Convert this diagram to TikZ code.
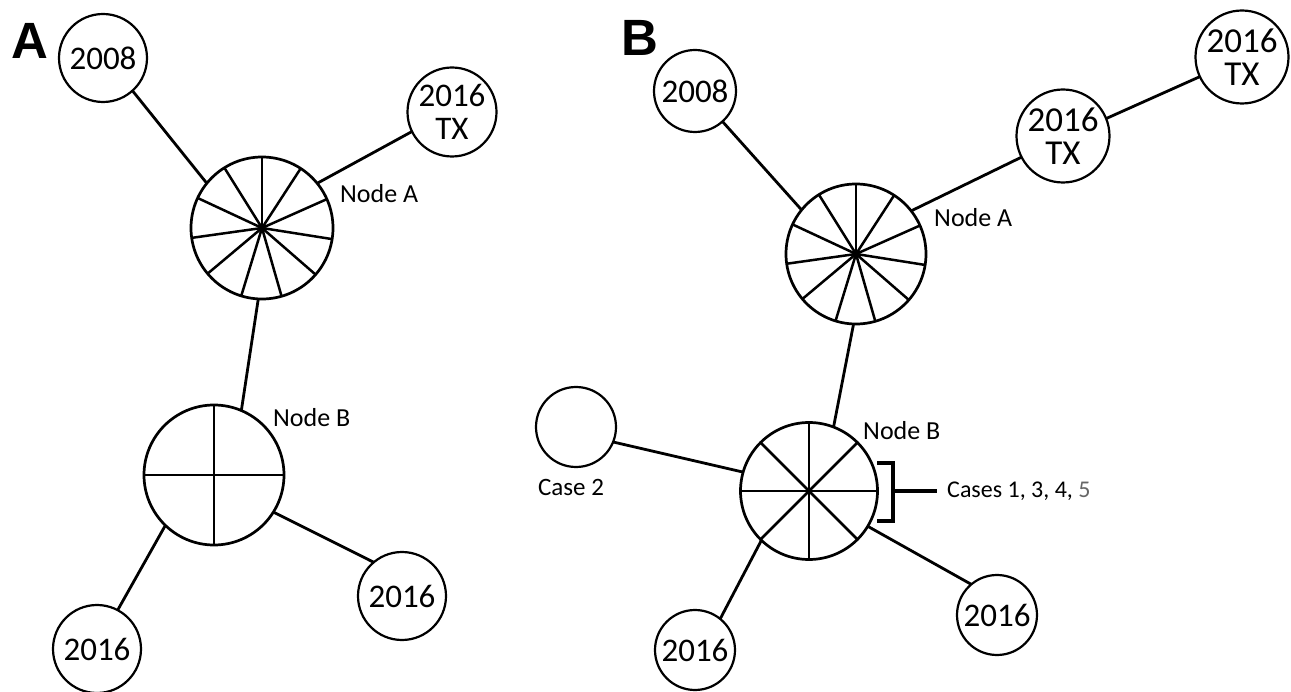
\documentclass[tikz,border=0pt]{standalone}
\usepackage{fontspec}
\setmainfont{Carlito}
\newfontfamily\panelfont{Liberation Sans}
\begin{document}
\begin{tikzpicture}[x=1pt,y=-1pt,
  conn/.style={line width=2.8pt},
  hub/.style={circle, draw, line width=2.7pt, minimum size=#1, inner sep=0pt, outer sep=0pt},
  spoke/.style={line width=2.5pt},
  year/.style={circle, draw, line width=2.2pt, minimum size=#1, inner sep=0pt, outer sep=0pt,
    align=center, font=\fontsize{33}{33}\selectfont},
  yearbig/.style={year=#1, font=\fontsize{35}{33}\selectfont},
  lbl/.style={anchor=west, inner sep=0pt, font=\fontsize{26}{26}\selectfont},
  panel/.style={inner sep=0pt, font=\panelfont\bfseries\fontsize{51}{51}\selectfont},
  brk/.style={line width=3.2pt}]
\useasboundingbox (0,0) rectangle (1291,692);

% ---------- panel A ----------
\node[panel] (pA) at (30,41) {A};
\node[hub=142pt] (aA) at (262,228) {};
\node[hub=140pt] (aB) at (214,475) {};
\node[year=88pt] (a08) at (103,58) {2008};
\node[year=89pt] (aTX) at (452,112) {2016\\TX};
\node[year=88pt] (aR) at (402,596) {2016};
\node[year=88pt] (aL) at (97,649) {2016};

\foreach \k [evaluate=\k as \ang using 90+\k*360/11] in {0,...,10}
  \draw[spoke] (aA.center) -- (aA.\ang);
\foreach \ang in {0,90,180,270}
  \draw[spoke] (aB.center) -- (aB.\ang);

\draw[conn] (a08.-48) -- (aA.141);
\draw[conn] (aA.39) -- (aTX.206);
\draw[conn] (aA.-93) -- (aB.67);
\draw[conn] (aB.-32) -- (aR.130);
\draw[conn] (aB.-134) -- (aL.62);

\node[lbl] (laA) at (340,194) {Node A};
\node[lbl] (laB) at (273,418) {Node B};

% ---------- panel B ----------
\node[panel] (pB) at (640,38) {B};
\node[hub=140pt] (bA) at (856,254) {};
\node[hub=137pt] (bB) at (809,491) {};
\node[year=82pt] (b08) at (695,91) {2008};
\node[yearbig=93pt] (bTX1) at (1063,136) {2016\\TX};
\node[yearbig=93pt] (bTX2) at (1242,57) {2016\\TX};
\node[year=80pt] (bC2) at (576,427) {};
\node[year=80pt] (bL) at (695,650) {2016};
\node[year=80pt] (bR) at (997,615) {2016};

\foreach \k [evaluate=\k as \ang using 90+\k*360/11] in {0,...,10}
  \draw[spoke] (bA.center) -- (bA.\ang);
\foreach \ang in {0,45,...,315}
  \draw[spoke] (bB.center) -- (bB.\ang);

\draw[conn] (b08.-48) -- (bA.141);
\draw[conn] (bA.38) -- (bTX1.207);
\draw[conn] (bTX1.22) -- (bTX2.205);
\draw[conn] (bA.-92) -- (bB.69);
\draw[conn] (bC2.-22) -- (bB.164);
\draw[conn] (bB.-134) -- (bL.51);
\draw[conn] (bB.-31) -- (bR.130);

\node[lbl] (lbA) at (934,218) {Node A};
\node[lbl] (lbB) at (863,431) {Node B};
\node[inner sep=0pt, font=\fontsize{25}{25}\selectfont] (lC2) at (571,487) {Case 2};
\node[lbl, font=\fontsize{24}{24}\selectfont] (lCases) at (947,491) {Cases 1, 3, 4, {\color{black!60}5}};

% bracket grouping the node B cases
\coordinate (brTop) at (877,463);
\coordinate (brBot) at (877,521);
\coordinate (brMid) at (893,491);
\coordinate (brEnd) at (937,491);
\draw[brk] (brTop) -- (893,463) -- (893,521) -- (brBot);
\draw[brk] (brMid) -- (brEnd);
\end{tikzpicture}
\end{document}
